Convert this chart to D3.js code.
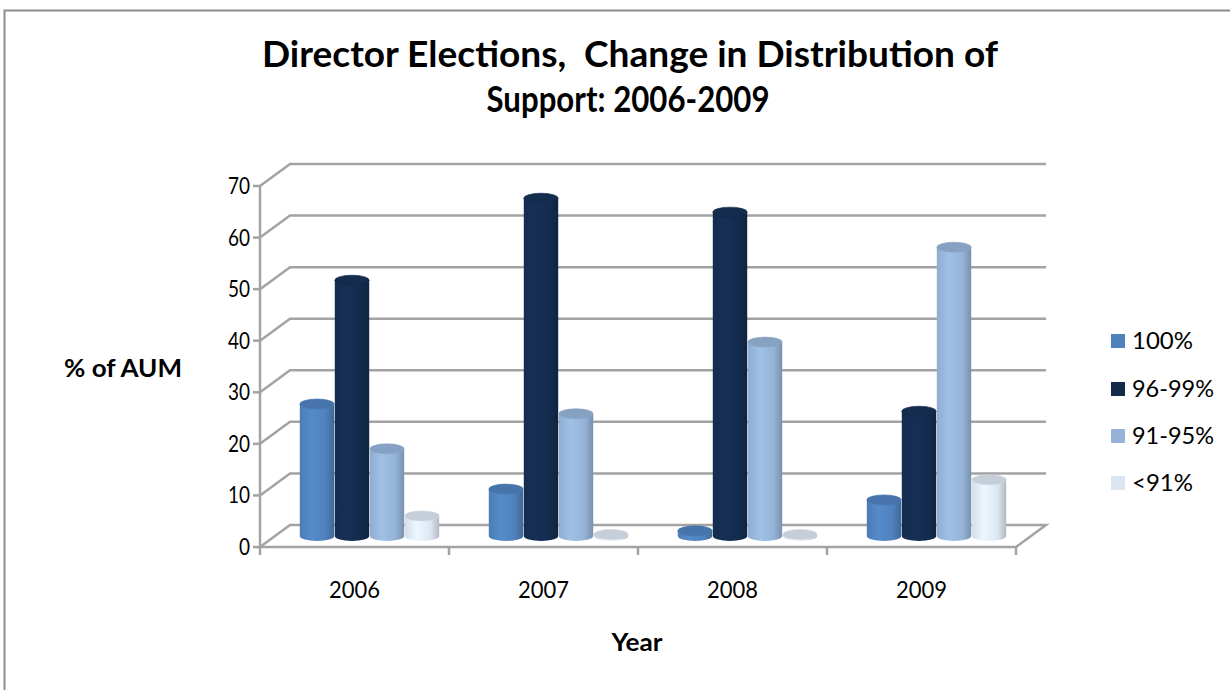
<!DOCTYPE html>
<html>
<head>
<meta charset="utf-8">
<script src="https://cdn.jsdelivr.net/npm/d3@7"></script>
<style>
  html, body { margin: 0; padding: 0; background: #ffffff; }
  svg { display: block; }
  text { font-family: Lato, "Open Sans", "DejaVu Sans", sans-serif; fill: #000; white-space: pre; }
</style>
</head>
<body>
<svg id="chart" width="1230" height="690"></svg>
<script>
// ---- data ----
const years = ["2006", "2007", "2008", "2009"];
const seriesNames = ["100%", "96-99%", "91-95%", "<91%"];
const support100 = [25.6, 9.1, 1.0, 7.0];
const support96to99 = [49.6, 65.5, 62.8, 24.2];
const support91to95 = [16.9, 23.7, 37.6, 56.0];
const supportBelow91 = [3.9, 0.3, 0.3, 10.9];
const yTicks = [0, 10, 20, 30, 40, 50, 60, 70];
const seriesColors = ["#4F81BD", "#132A4B", "#95B3D7", "#DCE6F2"];

const seriesValues = [support100, support96to99, support91to95, supportBelow91];

// ---- layout ----
const svg = d3.select("#chart");
const W = 1230, H = 690;
const plot = { left: 260, right: 1016, bottom: 547, top: 186 };
const depth = { dx: 30, dy: -22 };   // offset of the back wall
const barDepth = 0.5;                 // bars stand halfway into the floor
const barRy = 5;                      // ellipse half-height of cylinder caps

const x0 = d3.scaleBand().domain(years).range([plot.left, plot.right]);
const x1 = d3.scaleBand().domain(seriesNames)
  .range([0, x0.bandwidth()]).paddingOuter(0.7).paddingInner(0);
const y = d3.scaleLinear().domain([0, 70]).range([plot.bottom, plot.top]);

// frame
svg.append("path")
  .attr("d", `M4.5,${H} L4.5,10.5 L${W},10.5`)
  .attr("fill", "none").attr("stroke", "#8e8e8e").attr("stroke-width", 2);

// ---- title ----
const title = svg.append("g");
title.append("text").attr("x", 630).attr("y", 67).attr("text-anchor", "middle")
  .attr("font-size", 37).attr("font-weight", "bold")
  .attr("textLength", 736).attr("lengthAdjust", "spacingAndGlyphs")
  .text("Director Elections,  Change in Distribution of");
title.append("text").attr("x", 628).attr("y", 112).attr("text-anchor", "middle")
  .attr("font-size", 37).attr("font-weight", "bold")
  .attr("textLength", 283).attr("lengthAdjust", "spacingAndGlyphs")
  .text("Support: 2006-2009");

// ---- walls and gridlines ----
const gridColor = "#a3a3a3";
const grid = svg.append("g").attr("stroke", gridColor).attr("stroke-width", 2.5).attr("fill", "none");
yTicks.forEach(t => {
  const yf = y(t);
  if (t === 0) {
    // floor outline
    grid.append("path").attr("d",
      `M${plot.left},${yf} L${plot.left + depth.dx},${yf + depth.dy} L${plot.right + depth.dx},${yf + depth.dy} L${plot.right},${yf} Z`);
  } else {
    grid.append("path").attr("d",
      `M${plot.left},${yf} L${plot.left + depth.dx},${yf + depth.dy} L${plot.right + depth.dx},${yf + depth.dy}`);
  }
});
// vertical value axis and ticks
grid.append("line").attr("x1", plot.left).attr("x2", plot.left)
  .attr("y1", y(70)).attr("y2", y(0));
yTicks.forEach(t => {
  grid.append("line").attr("x1", plot.left - 7).attr("x2", plot.left)
    .attr("y1", y(t)).attr("y2", y(t));
});
// category ticks below the floor
const catEdges = years.map(d => x0(d)).concat([plot.right]);
catEdges.forEach(xe => {
  grid.append("line").attr("x1", xe).attr("x2", xe)
    .attr("y1", plot.bottom).attr("y2", plot.bottom + 8);
});

// ---- axis labels ----
svg.append("g").selectAll("text").data(yTicks).join("text")
  .attr("x", 250).attr("y", d => y(d) + 8).attr("text-anchor", "end")
  .attr("font-size", 23)
  .attr("textLength", d => d === 0 ? 11 : 22).attr("lengthAdjust", "spacingAndGlyphs")
  .text(d => d);

svg.append("g").selectAll("text").data(years).join("text")
  .attr("x", d => x0(d) + x0.bandwidth() / 2).attr("y", 598)
  .attr("text-anchor", "middle").attr("font-size", 23)
  .attr("textLength", 51).attr("lengthAdjust", "spacingAndGlyphs").text(d => d);

svg.append("text").attr("x", 637).attr("y", 651).attr("text-anchor", "middle")
  .attr("font-size", 25).attr("font-weight", "bold")
  .attr("textLength", 51).attr("lengthAdjust", "spacingAndGlyphs").text("Year");
svg.append("text").attr("x", 123).attr("y", 377).attr("text-anchor", "middle")
  .attr("font-size", 24).attr("font-weight", "bold")
  .attr("textLength", 118).attr("lengthAdjust", "spacingAndGlyphs").text("% of AUM");

// ---- cylinder gradients ----
const defs = svg.append("defs");
seriesColors.forEach((c, i) => {
  const base = d3.color(c);
  const g = defs.append("linearGradient").attr("id", "cyl" + i)
    .attr("x1", "0%").attr("x2", "100%").attr("y1", "0%").attr("y2", "0%");
  const stops = i === 1
    ? [[0, base.brighter(0.15)], [0.35, base.brighter(0.35)], [0.8, base], [1, base.darker(0.4)]]
    : [[0, base.darker(0.1)], [0.35, base.brighter(0.2)], [0.75, base], [1, base.darker(0.6)]];
  stops.forEach(([o, col]) => g.append("stop").attr("offset", o).attr("stop-color", col.formatHex()));
});

// ---- bars ----
const bars = [];
years.forEach((yr, yi) => {
  seriesNames.forEach((s, si) => {
    bars.push({ year: yr, series: s, si, value: seriesValues[si][yi] });
  });
});

const offX = depth.dx * barDepth, offY = depth.dy * barDepth;
const barG = svg.append("g");
const cyl = barG.selectAll("g").data(bars).join("g");
cyl.each(function(d) {
  const g = d3.select(this);
  const rx = x1.bandwidth() / 2 - 0.3;
  const cx = x0(d.year) + x1(d.series) + x1.bandwidth() / 2 + offX;
  const yb = y(0) + offY;
  const yt = y(d.value) + offY;
  const base = d3.color(seriesColors[d.si]);
  const body = `M${cx - rx},${yt} L${cx - rx},${yb} A${rx},${barRy} 0 0 0 ${cx + rx},${yb} L${cx + rx},${yt} Z`;
  g.append("path").attr("d", body).attr("fill", `url(#cyl${d.si})`);
  g.append("ellipse").attr("cx", cx).attr("cy", yt).attr("rx", rx).attr("ry", barRy)
    .attr("fill", (d.si === 1 ? base.brighter(0.1) : base.darker(0.3)).formatHex())
    .attr("stroke", base.darker(0.2).formatHex()).attr("stroke-width", 0.6);
});

// ---- legend ----
const legend = svg.append("g");
const legendY = [341, 389, 436, 483];
const legendWidths = [61, 82, 82, 61];
seriesNames.forEach((s, i) => {
  legend.append("rect").attr("x", 1111).attr("y", legendY[i] - 7)
    .attr("width", 14).attr("height", 14).attr("fill", seriesColors[i]);
  legend.append("text").attr("x", 1132).attr("y", legendY[i] + 8)
    .attr("font-size", 23)
    .attr("textLength", legendWidths[i]).attr("lengthAdjust", "spacingAndGlyphs").text(s);
});
</script>
</body>
</html>
